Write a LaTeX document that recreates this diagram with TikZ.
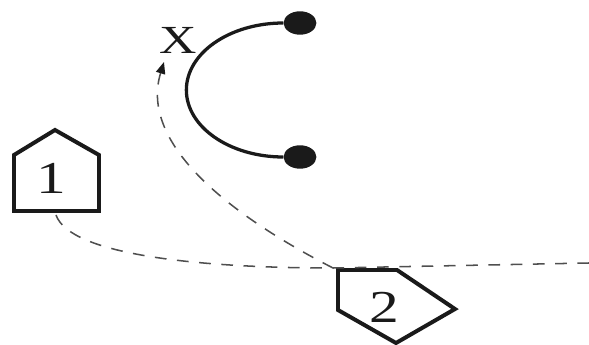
\documentclass[tikz,border=0pt]{standalone}
\usepackage{fontspec}
\setmainfont{Liberation Serif}
\usepackage{tikz}
\usetikzlibrary{arrows.meta,shapes.geometric}
\definecolor{Ink}{HTML}{1A1A1A}
\definecolor{Trail}{HTML}{4F4F4F}
\newcommand{\wide}[1]{\scalebox{1.3}[1]{#1}}

\begin{document}
\begin{tikzpicture}[x=0.03cm,y=-0.03cm,
  player/.style={draw=Ink,line width=3.4pt,line join=miter},
  num/.style={font=\fontsize{39}{44}\selectfont,text=Ink,inner sep=0pt},
  trail/.style={draw=Trail,line width=1.3pt,dash pattern=on 10pt off 9pt},
  ball/.style={ellipse,fill=Ink,inner sep=0pt,minimum width=28pt,minimum height=20pt},
  screen/.style={draw=Ink,line width=2.8pt}]
  \useasboundingbox (0,0) rectangle (589,345);
  % player one
  \draw[player] (14,211) -- (14,155) -- (55,130) -- (99,155) -- (99,211) -- cycle;
  \node[num] (one) at (51,178) {\wide{1}};
  \coordinate (onefoot) at (56,215);
  % player two
  \draw[player] (338,270) -- (397,270) -- (455,309) -- (396,343) -- (338,310) -- cycle;
  \node[num] (two) at (384,307) {\wide{2}};
  \coordinate (twotop) at (333,268);
  \coordinate (edge) at (589,263);
  % screen
  \node[ball] (top) at (300,23) {};
  \node[ball] (bottom) at (300,157) {};
  \draw[screen] (top.west) arc[start angle=-90,end angle=-270,x radius=97,y radius=67];
  % spot
  \node[font=\fontsize{34}{38}\selectfont,text=Ink,inner sep=0pt] (spot) at (178,40) {\wide{X}};
  \coordinate (spotmark) at (164,62);
  % cuts
  \draw[trail] (onefoot) .. controls (70,255) and (200,268) .. (twotop) -- (edge);
  \draw[trail,-{Triangle[length=10pt,width=8pt,color=Ink]}] (twotop) .. controls (220,210) and (140,140) .. (spotmark);
\end{tikzpicture}
\end{document}
